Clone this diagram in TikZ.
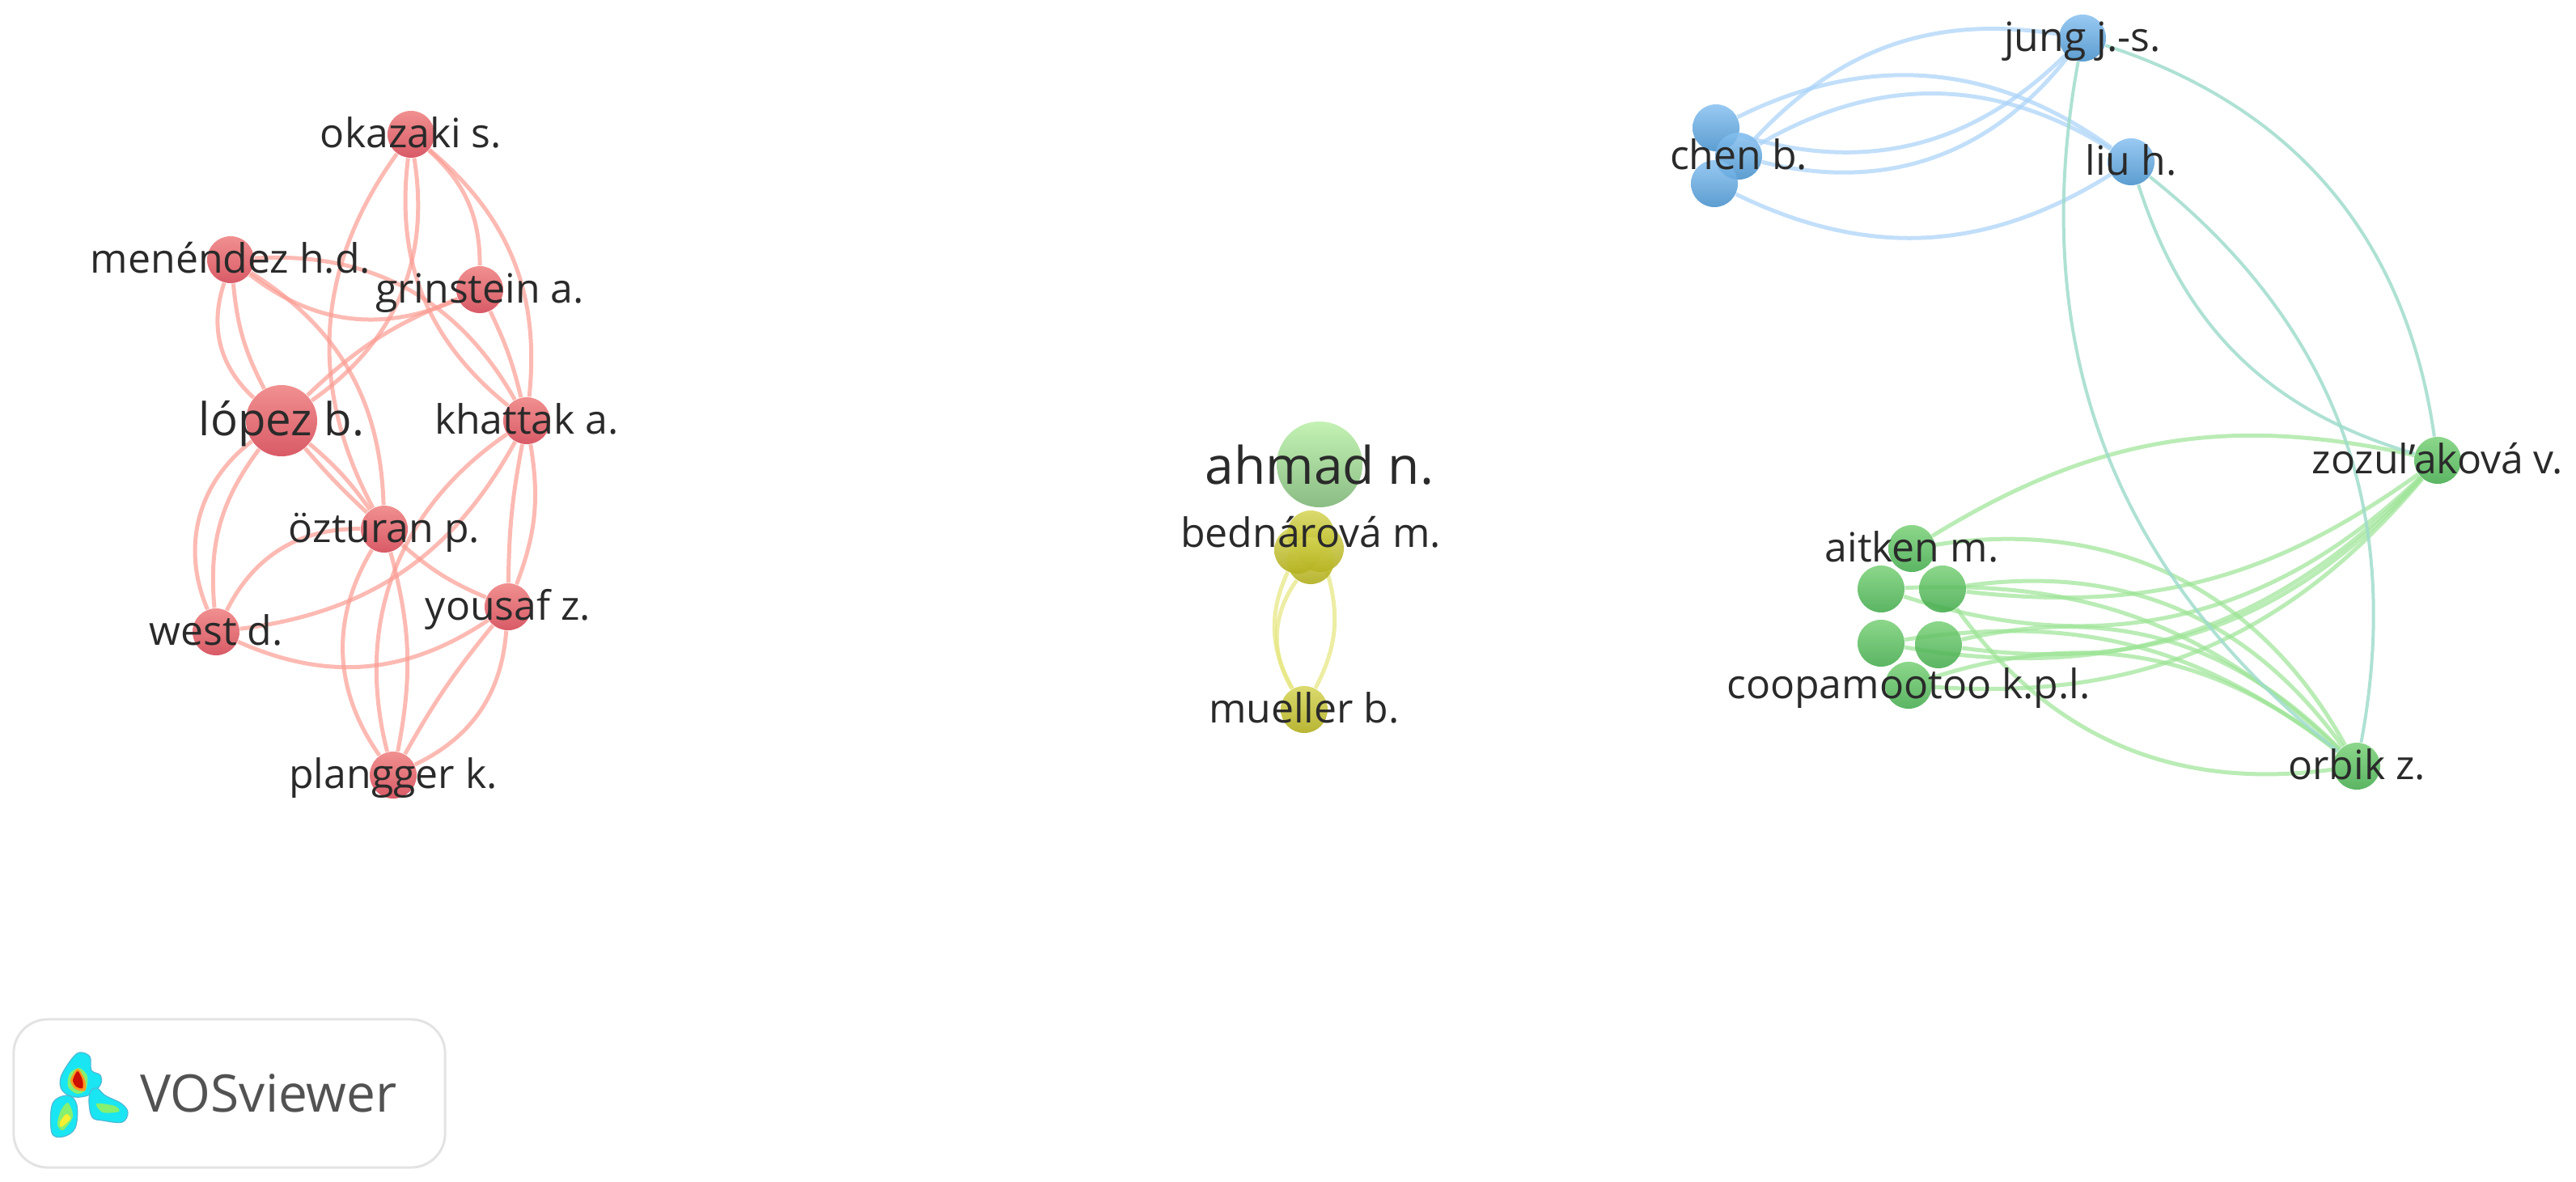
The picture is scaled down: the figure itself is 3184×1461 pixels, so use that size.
\documentclass[tikz,border=0pt]{standalone}
\usepackage{fontspec}
\setmainfont{Open Sans}
\usetikzlibrary{backgrounds}
\definecolor{redtop}{HTML}{EE7C7C}
\definecolor{redbot}{HTML}{D23E4C}
\definecolor{rededge}{HTML}{FB9C93}
\definecolor{bluetop}{HTML}{86C0F0}
\definecolor{bluebot}{HTML}{408CC8}
\definecolor{blueedge}{HTML}{A8D2F8}
\definecolor{greentop}{HTML}{78D076}
\definecolor{greenbot}{HTML}{3EA848}
\definecolor{greenedge}{HTML}{9CE496}
\definecolor{crossedge}{HTML}{A0DCCC}
\definecolor{yellowtop}{HTML}{D4D454}
\definecolor{yellowbot}{HTML}{ACA810}
\definecolor{yellowedge}{HTML}{E6E67E}
\definecolor{ahmadtop}{HTML}{C4F2B4}
\definecolor{ahmadbot}{HTML}{8ABC84}
\definecolor{labelgray}{HTML}{2A2A2A}
\definecolor{logocyan}{HTML}{19E6F2}
\definecolor{logoedge}{HTML}{4CBAD6}
\definecolor{logogreen}{HTML}{86F070}
\definecolor{logoyellow}{HTML}{F5F032}
\definecolor{logoorange}{HTML}{FF9A20}
\definecolor{logored}{HTML}{CC1000}
\tikzset{
  ball/.style={circle, inner sep=0pt, minimum size=0.58cm, fill opacity=0.85},
  redball/.style={ball, top color=redtop, bottom color=redbot},
  blueball/.style={ball, top color=bluetop, bottom color=bluebot},
  greenball/.style={ball, top color=greentop, bottom color=greenbot},
  yellowball/.style={ball, top color=yellowtop, bottom color=yellowbot},
  bigball/.style={ball, minimum size=1.06cm, top color=ahmadtop, bottom color=ahmadbot, fill opacity=1},
  lbl/.style={inner sep=0pt, text=labelgray, text height=10.5pt, text depth=1pt, font=\fontsize{14.2}{16}\selectfont},
  biglbl/.style={lbl, text height=12pt, text depth=1.4pt, font=\fontsize{16}{18}\selectfont},
  hugelbl/.style={lbl, text height=14pt, text depth=0pt, font=\fontsize{18.2}{20}\selectfont},
  link/.style={line width=0.05cm, draw opacity=0.7},
  redlink/.style={link, draw=rededge},
  bluelink/.style={link, draw=blueedge},
  greenlink/.style={link, draw=greenedge},
  crosslink/.style={line width=0.04cm, draw=crossedge, draw opacity=0.85},
  yellowlink/.style={link, draw=yellowedge},
  blob/.style={draw=logoedge, line width=0.012cm, fill=logocyan}
}
\begin{document}
\begin{tikzpicture}[x=0.01cm, y=-0.01cm]
  \useasboundingbox (0,0) rectangle (3184,1461);

  \foreach \name/\x/\y in {okazaki/508/166, menendez/285/321, grinstein/593/358, khattak/651/520, ozturan/475/654, yousaf/628/750, west/267/781, plangger/486/958} {
    \node[redball] (\name) at (\x,\y) {};
  }
  \node[redball, minimum size=0.88cm] (lopez) at (348,520) {};
  \foreach \name/\x/\y in {jung/2574/47, chentop/2121/158, chenmid/2149/193, chenlow/2119/227, liu/2634/200} {
    \node[blueball] (\name) at (\x,\y) {};
  }
  \foreach \name/\x/\y in {zozul/3013/569, orbik/2913/947, aitken/2363/678, clustA/2325/728, clustB/2401/728, clustC/2325/795, clustD/2396/797, coopa/2359/847} {
    \node[greenball] (\name) at (\x,\y) {};
  }
  \node[bigball] (ahmad) at (1631,574) {};
  \foreach \name/\x/\y in {bedtop/1620/660, bedleft/1604/680, bedright/1632/678, bedlow/1620/693, mueller/1612/877} {
    \node[yellowball] (\name) at (\x,\y) {};
  }

  \begin{pgfonlayer}{background}
    \foreach \a/\b/\bend in {okazaki/ozturan/-32, okazaki/lopez/32, okazaki/khattak/-29, okazaki/grinstein/24, okazaki/khattak/28, menendez/lopez/-33, menendez/lopez/-11, menendez/khattak/32, menendez/grinstein/-31, menendez/ozturan/28, grinstein/lopez/-11, grinstein/khattak/6, lopez/west/-38, lopez/west/-21, lopez/ozturan/7, lopez/ozturan/-3, khattak/west/27, khattak/plangger/-35, khattak/yousaf/15, khattak/yousaf/-5, ozturan/west/-32, ozturan/yousaf/-9, ozturan/plangger/-33, ozturan/plangger/13, yousaf/west/29, yousaf/plangger/-5, yousaf/plangger/30} {
      \draw[redlink] (\a) to[bend left=\bend] (\b);
    }
    \foreach \a/\b/\bend in {chenmid/jung/28, chentop/liu/31, chenmid/liu/31, chenlow/liu/-29, chentop/jung/-31, chenmid/jung/-33} {
      \draw[bluelink] (\a) to[bend left=\bend] (\b);
    }
    \foreach \a/\b/\bend in {aitken/zozul/22, clustB/zozul/-21, clustA/zozul/-31, clustD/zozul/-28, clustC/zozul/-28, coopa/zozul/-27, aitken/orbik/35, clustB/orbik/31, clustA/orbik/23, clustD/orbik/29, clustC/orbik/23, clustB/orbik/-31, coopa/orbik/28} {
      \draw[greenlink] (\a) to[bend left=\bend] (\b);
    }
    \foreach \a/\b/\bend in {jung/zozul/32, liu/zozul/-28, liu/orbik/31, jung/orbik/-31} {
      \draw[crosslink] (\a) to[bend left=\bend] (\b);
    }
    \foreach \a/\b/\bend in {bedleft/mueller/-27, bedlow/mueller/-33, bedright/mueller/22} {
      \draw[yellowlink] (\a) to[bend left=\bend] (\b);
    }
  \end{pgfonlayer}

  \foreach \name/\txt in {okazaki/okazaki s., menendez/menéndez h.d., grinstein/grinstein a., khattak/khattak a., ozturan/özturan p., yousaf/yousaf z., west/west d., plangger/plangger k., jung/jung j.-s., chenmid/chen b., liu/liu h., zozul/zozul'aková v., aitken/aitken m., coopa/coopamootoo k.p.l., orbik/orbik z., bedtop/bednárová m., mueller/mueller b.} {
    \node[lbl] (\name-txt) at (\name) {\txt};
  }
  \node[biglbl] (lopez-txt) at (lopez) {lópez b.};
  \node[hugelbl] (ahmad-txt) at (ahmad) {ahmad n.};

  \node[draw=black!11, line width=0.03cm, rounded corners=0.42cm, minimum width=5.33cm, minimum height=1.83cm, inner sep=0pt] (logobox) at (283.5,1351.5) {};
  \node[hugelbl, text=black!68] (logotxt) at (332,1350) {VOSviewer};
  \filldraw[blob] plot[smooth cycle, tension=0.6] coordinates {(98,1301) (111,1306) (113,1323) (124,1329) (124,1341) (111,1353) (92,1356) (77,1348) (75,1332) (87,1311)};
  \filldraw[blob] plot[smooth cycle, tension=0.6] coordinates {(84,1354) (95,1366) (93,1394) (78,1405) (64,1400) (65,1364)};
  \filldraw[blob] plot[smooth cycle, tension=0.6] coordinates {(120,1345) (130,1354) (150,1364) (158,1375) (151,1387) (127,1385) (114,1381) (110,1363) (112,1349)};
  \fill[logogreen] plot[smooth cycle] coordinates {(98,1320) (108,1330) (106,1347) (95,1352) (84,1343) (86,1327)};
  \fill[logoorange] plot[smooth cycle] coordinates {(96,1321) (105,1335) (105,1348) (93,1346) (87,1335)};
  \fill[logored] plot[smooth cycle] coordinates {(96,1324) (102,1335) (102,1345) (94,1343) (90,1335)};
  \fill[logogreen] plot[smooth cycle] coordinates {(84,1363) (90,1380) (78,1397) (71,1390) (75,1373)};
  \fill[logoyellow] plot[smooth cycle] coordinates {(82,1377) (87,1383) (76,1393) (74,1387)};
  \fill[logogreen] plot[smooth cycle] coordinates {(119,1364) (142,1367) (147,1374) (127,1375)};
\end{tikzpicture}
\end{document}
